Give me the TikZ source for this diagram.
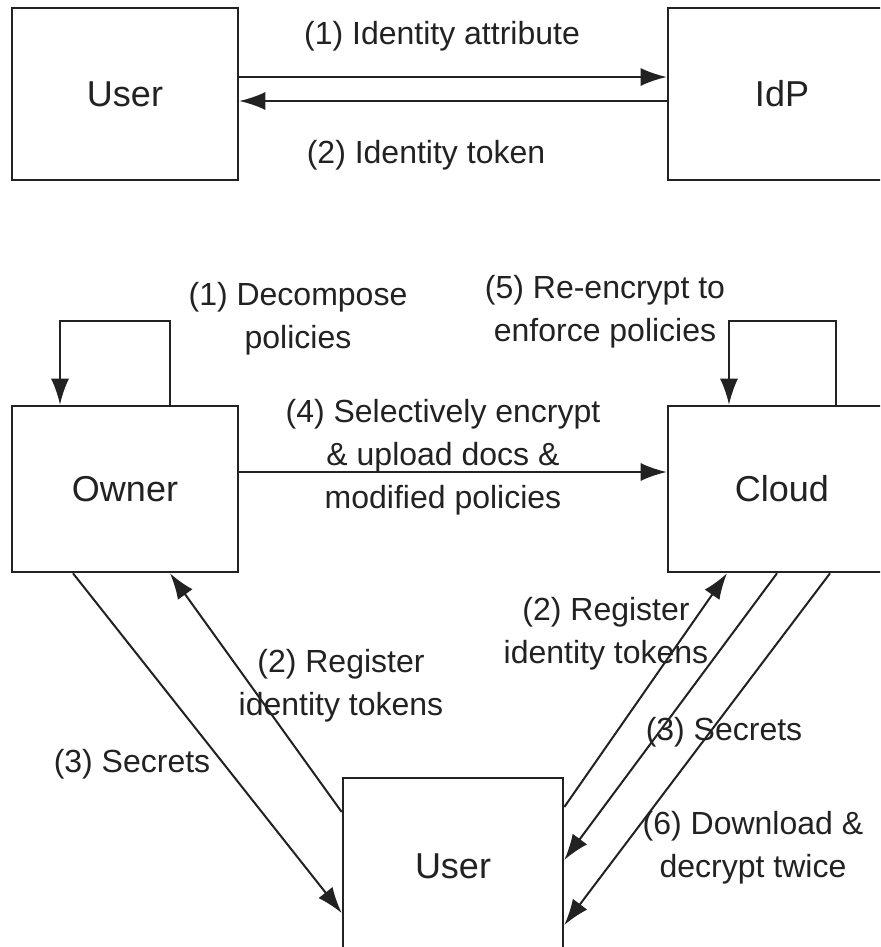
\documentclass[tikz,border=0pt]{standalone}
\usepackage{fontspec}
\setmainfont{Liberation Sans}
\usetikzlibrary{arrows.meta}
\definecolor{inkColor}{RGB}{34,34,34}
\tikzstyle{canvas} = [x = 0.5pt, y = -0.5pt]
\tikzstyle{partyBox} = [draw=inkColor, line width=1.3pt, inner sep=0pt, text=inkColor, font=\fontsize{18}{22}\selectfont]
\tikzstyle{flow} = [draw=inkColor, line width=1pt, -{Latex[length=13pt, width=9pt]}]
\tikzstyle{flowLabel} = [text=inkColor, align=center, inner sep=0pt, anchor=base, font=\fontsize{16}{21.5}\selectfont]

\begin{document}
\begin{tikzpicture}[canvas]
  \clip (0,0) rectangle (880,947);
  \fill[white] (0,0) rectangle (880,947);

  % identity provider exchange
  \node[partyBox, minimum width=113pt, minimum height=86pt] (userTop) at (125,94) {User};
  \node[partyBox, minimum width=114pt, minimum height=86pt] (idp) at (782,94) {IdP};
  \draw[flow] ([yshift=8.5pt]userTop.east) -- ([yshift=8.5pt]idp.west);
  \draw[flow] ([yshift=-3.5pt]idp.west) -- ([yshift=-3.5pt]userTop.east);
  \node[flowLabel] (attrLabel) at (442,45) {(1) Identity attribute};
  \node[flowLabel] (tokenLabel) at (426,163) {(2) Identity token};

  % owner, cloud and user (base anchor = last line)
  \node[partyBox, minimum width=113pt, minimum height=83pt] (owner) at (125,489) {Owner};
  \node[partyBox, minimum width=114pt, minimum height=83pt] (cloud) at (782,489) {Cloud};
  \node[partyBox, minimum width=110pt, minimum height=88pt] (userBottom) at (453,866) {User};

  \draw[flow] ([xshift=22.5pt]owner.north) -- ++(0,-84) -| ([xshift=-32.5pt]owner.north);
  \draw[flow] ([xshift=27pt]cloud.north) -- ++(0,-84) -| ([xshift=-26.5pt]cloud.north);
  \draw[flow] ([yshift=8.5pt]owner.east) -- ([yshift=8.5pt]cloud.west);

  \draw[flow] ([xshift=-26pt]owner.south) -- ([yshift=-23.5pt]userBottom.west);
  \draw[flow] ([yshift=27pt]userBottom.west) -- ([xshift=22.5pt]owner.south);
  \draw[flow] ([yshift=29.5pt]userBottom.east) -- ([xshift=-27.5pt]cloud.south);
  \draw[flow] ([xshift=-2.5pt]cloud.south) -- ([yshift=3pt]userBottom.east);
  \draw[flow] ([xshift=24pt]cloud.south) -- ([yshift=-29.5pt]userBottom.east);

  \node[flowLabel] (decomposeLabel) at (298,348) {(1) Decompose\\policies};
  \node[flowLabel] (reencryptLabel) at (605,341) {(5) Re-encrypt to\\enforce policies};
  \node[flowLabel] (uploadLabel) at (443,508) {(4) Selectively encrypt\\\& upload docs \&\\modified policies};
  \node[flowLabel] (registerLeftLabel) at (341,715) {(2) Register\\identity tokens};
  \node[flowLabel] (secretsLeftLabel) at (132,772) {(3) Secrets};
  \node[flowLabel] (registerRightLabel) at (606,663) {(2) Register\\identity tokens};
  \node[flowLabel] (secretsRightLabel) at (724,740) {(3) Secrets};
  \node[flowLabel] (downloadLabel) at (753,877) {(6) Download \&\\decrypt twice};
\end{tikzpicture}
\end{document}
